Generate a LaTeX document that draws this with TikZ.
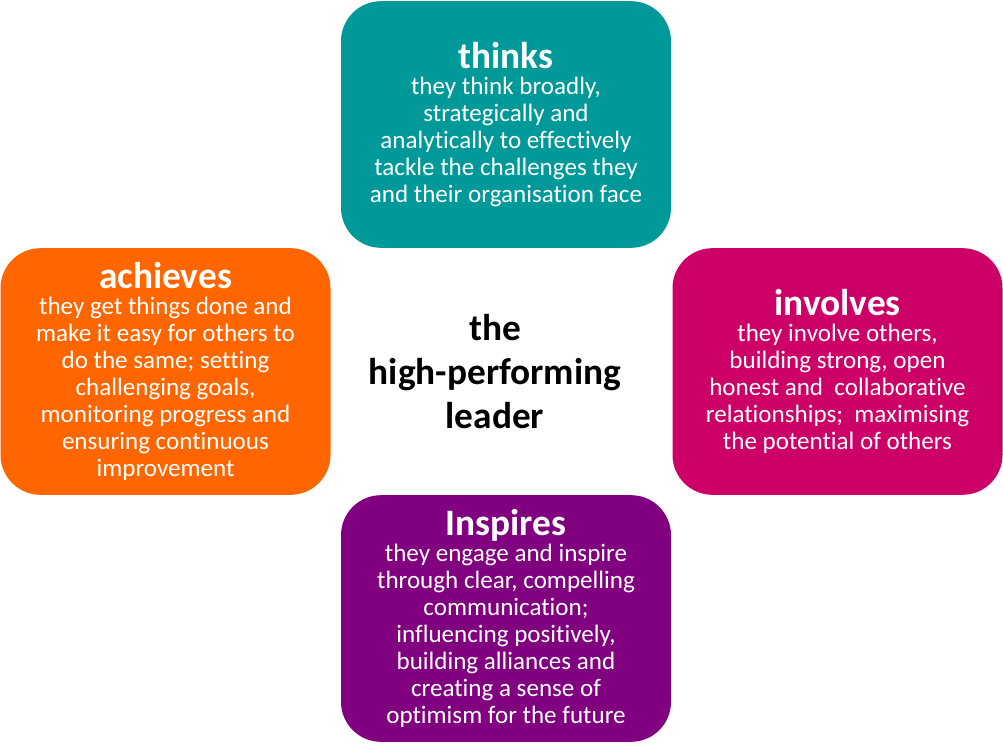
\documentclass[tikz,border=0pt]{standalone}
\usepackage{fontspec}
\setmainfont{Carlito}[Ligatures=NoCommon]
\definecolor{cteal}{HTML}{009999}
\definecolor{corange}{HTML}{FF6600}
\definecolor{cmagenta}{HTML}{CC0066}
\definecolor{cpurple}{HTML}{800080}
\newcommand{\boxtitle}[1]{{\fontsize{28}{26}\selectfont\bfseries #1}\\[-0.5pt]}
\begin{document}
\begin{tikzpicture}[x=0.75pt,y=-0.75pt,
  quad/.style={rounded corners=30pt, minimum width=247.5pt, minimum height=185pt,
    inner sep=0pt, text=white, align=center,
    font=\fontsize{18.8}{20.25}\selectfont},
  centre/.style={align=center, font=\fontsize{28}{33}\selectfont\bfseries, text=black}]
\useasboundingbox (0,0) rectangle (1003,750);
\node[quad, fill=cteal] (thinks) at (506,124.5) {\boxtitle{thinks}they think broadly,\\strategically and\\analytically to effectively\\tackle the challenges they\\and their organisation face};
\node[quad, fill=corange] (achieves) at (165.5,371.5) {\boxtitle{achieves}they get things done and\\make it easy for others to\\do the same; setting\\challenging goals,\\monitoring progress and\\ensuring continuous\\improvement};
\node[quad, fill=cmagenta] (involves) at (837.5,371.5) {\boxtitle{involves}they involve others,\\building strong, open\\honest and\ \ collaborative\\relationships;\ \ maximising\\the potential of others};
\node[quad, fill=cpurple] (inspires) at (506,618.5) {\boxtitle{Inspires}they engage and inspire\\through clear, compelling\\communication;\\influencing positively,\\building alliances and\\creating a sense of\\optimism for the future};
\node[centre] (leader) at (495,372) {the\\high-performing\\leader};
\end{tikzpicture}
\end{document}
